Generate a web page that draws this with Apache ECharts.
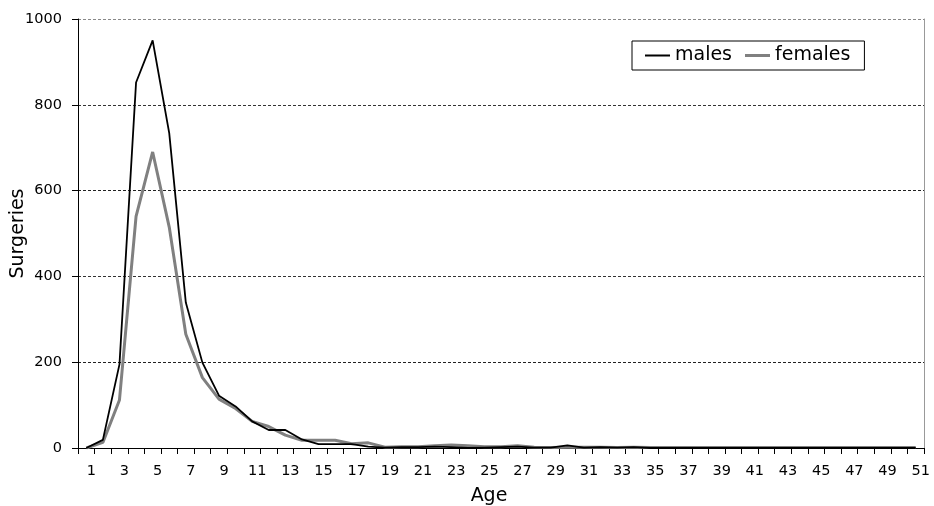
<!DOCTYPE html>
<html>
<head>
<meta charset="utf-8">
<script src="https://cdn.jsdelivr.net/npm/echarts@6/dist/echarts.min.js"></script>
<style>
html,body{margin:0;padding:0;background:#fff;}
#chart{width:934px;height:506px;}
</style>
</head>
<body>
<div id="chart"></div>
<script>
const ages = [];
for (let a = 1; a <= 51; a++) ages.push(String(a));

const males = [0, 19, 195, 852, 950, 734, 339, 199, 122, 97,
  62, 42, 42, 20, 9, 9, 9, 3, 1, 2,
  2, 3, 2, 0, 1, 2, 3, 1, 1, 6,
  1, 2, 1, 2, 0, 0, 0, 0, 0, 0,
  0, 0, 0, 0, 0, 0, 0, 0, 0, 0, 0];

const females = [0, 13, 112, 540, 690, 515, 265, 164, 114, 92,
  62, 50, 30, 18, 18, 18, 10, 12, 2, 3,
  3, 5, 7, 5, 3, 3, 5, 2, 1, 2,
  2, 2, 1, 2, 1, 1, 1, 1, 1, 1,
  1, 1, 1, 1, 1, 1, 1, 1, 1, 1, 1];

const yTicks = { min: 0, max: 1000, interval: 200 };

const font = 'DejaVu Sans, Verdana, sans-serif';
const chart = echarts.init(document.getElementById('chart'));
chart.setOption({
  animation: false,
  backgroundColor: '#fff',
  grid: { left: 78, right: 10, top: 19, bottom: 58, containLabel: false, outerBoundsMode: 'none' },
  legend: {
    left: 632, top: 41,
    padding: [5, 14, 5, 13],
    itemGap: 13,
    itemWidth: 25, itemHeight: 14,
    borderColor: '#000', borderWidth: 1,
    backgroundColor: '#fff',
    textStyle: { fontFamily: font, fontSize: 19, color: '#000' },
    data: [
      { name: 'males', icon: 'path://M0,0H25V2H0Z' },
      { name: 'females', icon: 'path://M0,0H25V3H0Z' }
    ]
  },
  xAxis: {
    type: 'category',
    data: ages,
    boundaryGap: true,
    name: 'Age',
    nameLocation: 'middle',
    nameGap: 39,
    nameMoveOverlap: false,
    nameTextStyle: { fontFamily: font, fontSize: 19, color: '#000', padding: [0, 24, 0, 0] },
    axisLine: { lineStyle: { color: '#000', width: 1 } },
    axisTick: { show: true, interval: 0, length: 6, lineStyle: { color: '#000' } },
    axisLabel: { interval: 1, margin: 16, fontFamily: font, fontSize: 14.5, color: '#000', padding: [0, 0, 0, 10] },
    splitLine: { show: false }
  },
  yAxis: [{
    type: 'value',
    min: yTicks.min, max: yTicks.max, interval: yTicks.interval,
    name: 'Surgeries',
    nameLocation: 'middle',
    nameGap: 50,
    nameMoveOverlap: false,
    nameTextStyle: { fontFamily: font, fontSize: 19, color: '#000' },
    axisLine: { show: true, lineStyle: { color: '#000', width: 1 } },
    axisTick: { show: true, length: 6, lineStyle: { color: '#000' } },
    axisLabel: { margin: 16, fontFamily: font, fontSize: 14.5, color: '#000', formatter: v => String(v) },
    splitLine: { show: true, lineStyle: { color: ['#000', '#222', '#333', '#222', '#333', '#888'], type: [3, 2], width: 1 } }
  }, {
    type: 'value',
    position: 'right',
    min: yTicks.min, max: yTicks.max, interval: yTicks.interval,
    axisLine: { show: true, lineStyle: { color: '#999', width: 1 } },
    axisTick: { show: false },
    axisLabel: { show: false },
    splitLine: { show: false }
  }],
  series: [{
    name: 'males',
    type: 'line',
    data: males,
    symbol: 'none',
    lineStyle: { color: '#000', width: 1.8 },
    itemStyle: { color: '#000' },
    z: 3
  }, {
    name: 'females',
    type: 'line',
    data: females,
    symbol: 'none',
    lineStyle: { color: '#808080', width: 3 },
    itemStyle: { color: '#808080' },
    z: 2
  }]
});
</script>
</body>
</html>
